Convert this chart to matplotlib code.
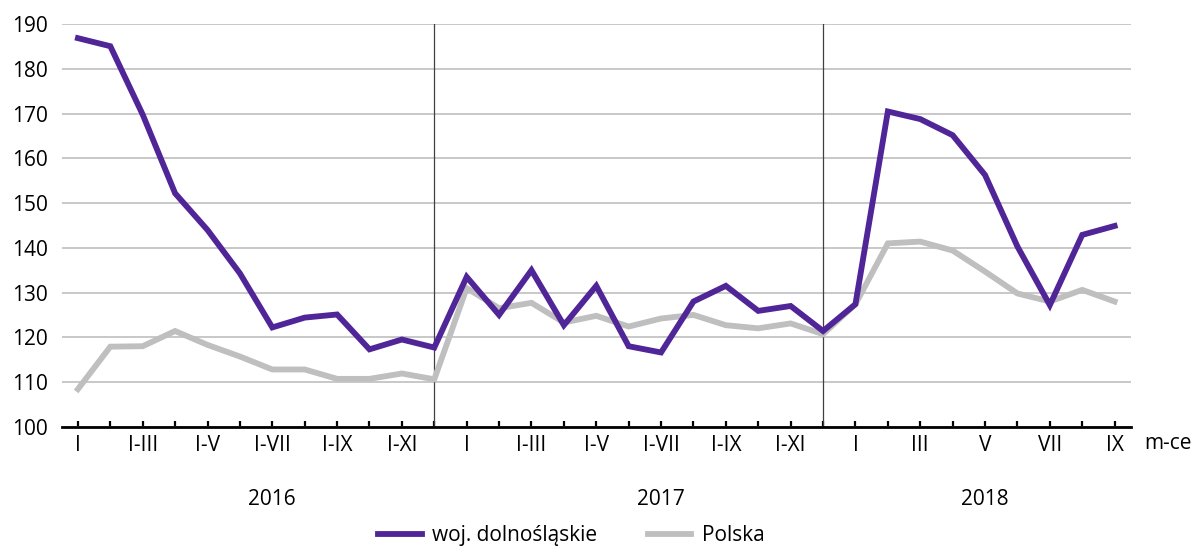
import matplotlib
matplotlib.use("Agg")
import matplotlib.pyplot as plt
from matplotlib.transforms import blended_transform_factory

# dynamika (okres poprzedni = 100), kolejne miesiące 2016-I .. 2018-IX
dolnoslaskie = [186.9, 185.1, 169.8, 152.2, 144.0, 134.3, 122.2, 124.4, 125.1, 117.3, 119.5, 117.7,
                133.5, 125.0, 135.0, 122.7, 131.5, 118.0, 116.6, 128.0, 131.5, 125.9, 127.0, 121.4,
                127.4, 170.5, 168.8, 165.2, 156.3, 140.3, 127.2, 142.9, 144.9]
polska = [108.4, 117.9, 118.0, 121.4, 118.3, 115.7, 112.8, 112.8, 110.7, 110.7, 111.9, 110.6,
          131.0, 126.5, 127.7, 123.3, 124.8, 122.4, 124.2, 125.0, 122.7, 122.0, 123.1, 120.7,
          127.4, 141.0, 141.4, 139.4, 134.7, 129.8, 128.0, 130.6, 128.0]

labels_cum = ["I", "", "I-III", "", "I-V", "", "I-VII", "", "I-IX", "", "I-XI", ""]
labels_2018 = ["I", "", "III", "", "V", "", "VII", "", "IX"]
tick_labels = labels_cum + labels_cum + labels_2018
years = ["2016", "2017", "2018"]
year_pos = [6, 18, 28]
separators = [11, 23]

PURPLE = "#4F2598"
GREY = "#BFBFBF"

plt.rcParams['font.family'] = ['Open Sans', 'DejaVu Sans']
plt.rcParams['font.size'] = 15

fig = plt.figure(figsize=(12.03, 5.46), dpi=100)
ax = fig.add_axes([0.0513, 0.2185, 0.8887, 0.737])

x = list(range(len(dolnoslaskie)))
l_pl, = ax.plot(x, polska, color=GREY, lw=4.2, solid_joinstyle='miter', label='Polska', zorder=3)
l_dl, = ax.plot(x, dolnoslaskie, color=PURPLE, lw=4.2, solid_joinstyle='miter',
                label='woj. dolnośląskie', zorder=4)

for s in separators:
    ax.axvline(s, color='#404040', lw=0.9, zorder=2)

ax.set_xlim(-0.5, len(x) - 0.5)
ax.set_ylim(100, 190)
ax.set_yticks(range(100, 191, 10))
ax.grid(axis='y', color='#C4C4C4', lw=1.3)
ax.set_axisbelow(True)

ax.set_xticks(x)
ax.set_xticklabels(tick_labels)
ax.tick_params(axis='x', direction='in', length=4, width=1.6, color='black', pad=6)
ax.tick_params(axis='y', length=0, pad=10)

for sp in ['top', 'right', 'left']:
    ax.spines[sp].set_visible(False)
ax.spines['bottom'].set_linewidth(2)
ax.spines['bottom'].set_zorder(5)

trans = blended_transform_factory(ax.transData, ax.transAxes)
for yr, p in zip(years, year_pos):
    ax.text(p, -0.18, yr, transform=trans, ha='center', va='center')
ax.text(len(x) - 0.5 + 0.4, -0.042, "m-ce", transform=trans, ha='left', va='center')

fig.legend(handles=[l_dl, l_pl], loc='lower center', bbox_to_anchor=(0.475, -0.035), ncol=2,
           frameon=False, handlelength=2.1, columnspacing=2.4, handletextpad=0.5)

fig.savefig("out.png", dpi=100)
